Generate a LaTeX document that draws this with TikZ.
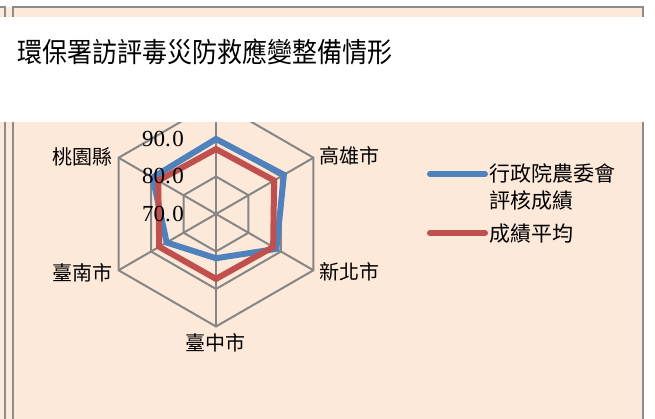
\documentclass[tikz,border=0pt]{standalone}
\usepackage{fontspec}
\newfontfamily\cjk{Noto Sans CJK TC}
\newfontfamily\numfont{Liberation Serif}
\definecolor{peach}{HTML}{FDE9D9}
\definecolor{gridgray}{HTML}{868686}
\definecolor{framegray}{HTML}{8C8C8C}
\definecolor{sblue}{HTML}{4F81BD}
\definecolor{sred}{HTML}{C0504D}
\tikzset{
  gridline/.style={draw=gridgray, line width=2},
  frameline/.style={draw=framegray, line width=2},
  series/.style={line width=6, line join=miter},
  axislabel/.style={font=\cjk\fontsize{20}{24}\selectfont, inner sep=0},
  ticklabel/.style={font=\numfont\fontsize{23}{27}\selectfont, inner sep=0, anchor=east},
  legendtext/.style={font=\cjk\fontsize{21}{27}\selectfont, inner sep=0, anchor=west, align=left},
}
\begin{document}
\begin{tikzpicture}[x=1pt,y=-1pt]
\useasboundingbox (0,0) rectangle (655,419);
% background and frame
\fill[peach] (0,7.5) rectangle (643,419);
\draw[frameline] (0,7.5) -- (5,7.5) -- (5,419);
\draw[frameline] (13,419) -- (13,7.5) -- (643,7.5) -- (643,419);
% radar chart
\coordinate (C) at (216,214);
\begin{scope}[shift={(216,214)}]
  \foreach \r in {37.5,75,112.5}
    \draw[gridline] (-90:\r) -- (-30:\r) -- (30:\r) -- (90:\r) -- (150:\r) -- (210:\r) -- cycle;
  \foreach \a in {-90,-30,30,90,150,210}
    \draw[gridline] (0,0) -- (\a:112.5);
  \draw[series, sblue] (-90:75) -- (-30:78.4) -- (30:69.75) -- (90:44.25) -- (150:57) -- (210:73.1) -- cycle;
  \draw[series, sred] (-90:64.9) -- (-30:67.1) -- (30:66) -- (90:64.9) -- (150:65.6) -- (210:66.75) -- cycle;
\end{scope}
% tick labels
\node[ticklabel] (t90) at (184,139) {90.\kern1.5pt0};
\node[ticklabel] (t80) at (184,176.5) {80.\kern1.5pt0};
\node[ticklabel] (t70) at (184,214) {70.\kern1.5pt0};
% axis labels
\node[axislabel] (l1) at (349.5,156) {高雄市};
\node[axislabel] (l2) at (349.5,272) {新北市};
\node[axislabel] (l3) at (215.5,343) {臺中市};
\node[axislabel] (l4) at (82,273) {臺南市};
\node[axislabel] (l5) at (82,156.5) {桃園縣};
% legend
\coordinate (b1) at (430,174);
\coordinate (b2) at (485,174);
\coordinate (r1) at (430,233);
\coordinate (r2) at (485,233);
\draw[sblue, line width=6, line cap=round] (b1) -- (b2);
\draw[sred, line width=6, line cap=round] (r1) -- (r2);
\node[legendtext, anchor=north west] (lg1) at (489,163) {行政院農委會\\評核成績};
\node[legendtext] (lg2) at (489,233.3) {成績平均};
% white title band
\fill[white] (0,17) rectangle (655,122.3);
\node[font=\cjk\fontsize{25}{30}\selectfont, inner sep=0, anchor=west, yscale=1.1] (title) at (17,52) {環保署訪評毒災防救應變整備情形};
\end{tikzpicture}
\end{document}
